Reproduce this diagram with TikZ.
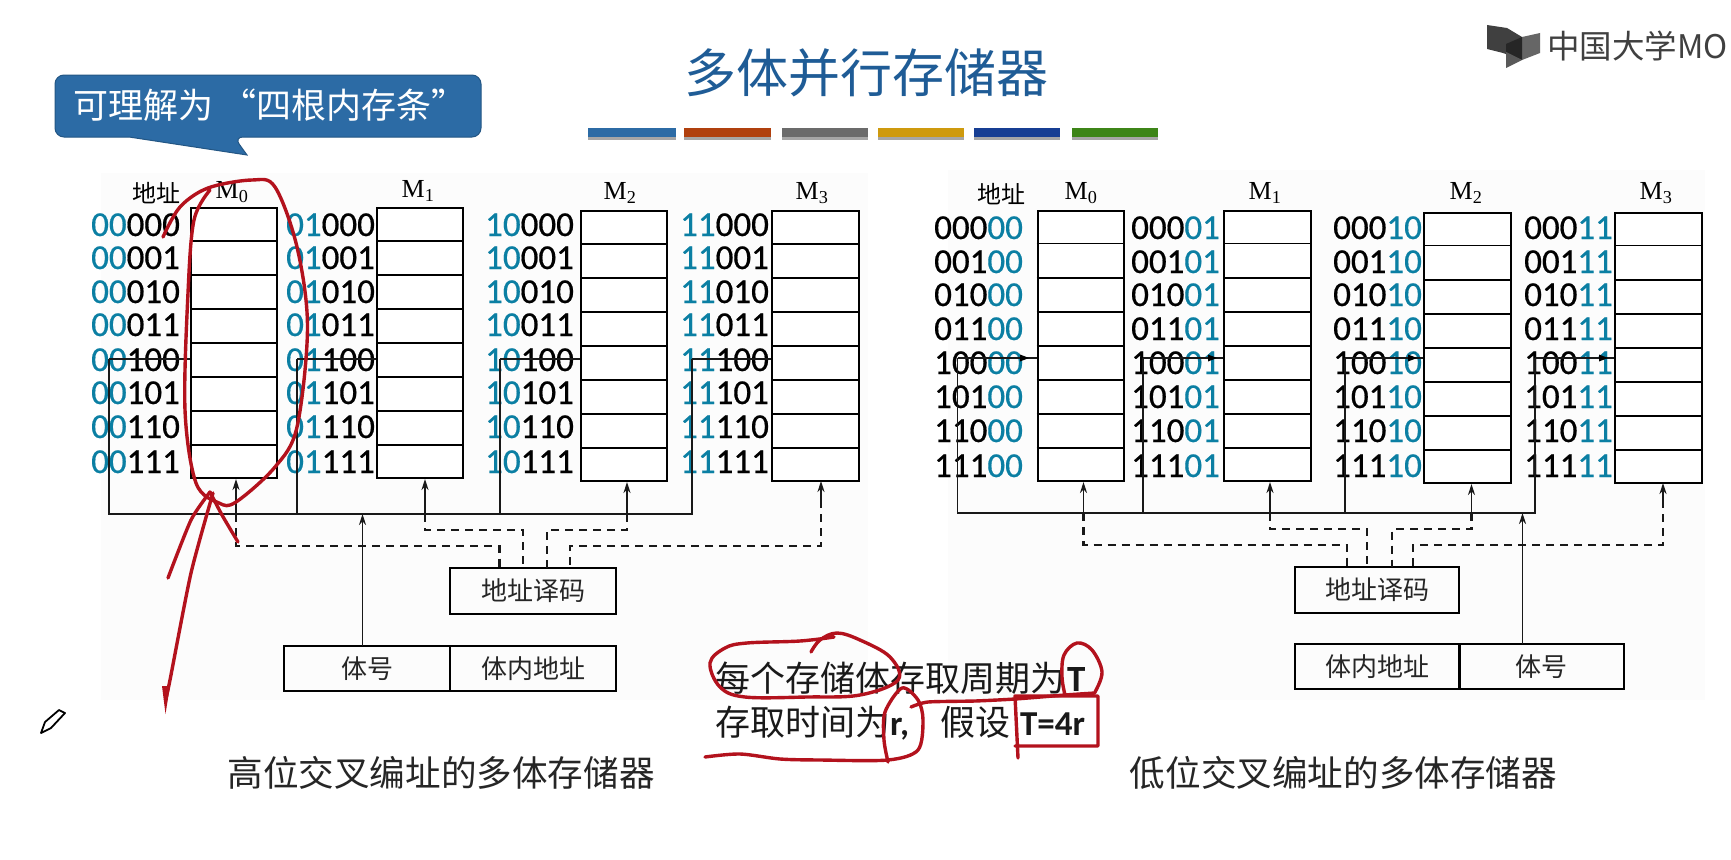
\documentclass[tikz,border=0pt]{standalone}
\usepackage{fontspec}
\usetikzlibrary{arrows.meta,calc}
\setmainfont{Liberation Serif}
\newfontfamily\cjk{Noto Sans CJK SC}
\newfontfamily\digi{Carlito}
\newfontfamily\digifat[FakeBold=0.5]{Carlito}
\newcommand{\fs}[1]{\fontsize{#1}{#1}\selectfont}
\definecolor{teal1}{HTML}{0B7FA3}
\definecolor{pen}{HTML}{B3121D}
\definecolor{titleblue}{HTML}{1F5C96}
\definecolor{bubble}{HTML}{2C6BA5}
\tikzset{
  membox/.style={draw=black,line width=2pt,inner sep=0pt,fill=white},
  plainbox/.style={draw=black,line width=2pt,inner sep=0pt,font=\cjk\fs{26}\color{black!85}},
  wire/.style={draw=black!90,line width=1.9pt},
  arrowwire/.style={wire,-{Stealth[length=11pt,width=7pt]}},
  dashwire/.style={draw=black!90,line width=2.2pt,dash pattern=on 8pt off 6pt},
  addrtext/.style={anchor=base west,inner sep=0pt,font=\digifat\fs{35}},
  mlabel/.style={inner sep=0pt,font=\fs{26}},
  cjklabel/.style={inner sep=0pt,font=\cjk\fs{24}},
  caption/.style={inner sep=0pt,font=\cjk\fs{35.6}\color{black!85}},
  redpen/.style={draw=pen,line width=3.4pt,line cap=round,line join=round},
  barshade/.style={fill=black!35},
}
% name, x1, y1, x2, y2
\newcommand{\membank}[5]{%
  \node[membox,minimum width={(#4-#2)*1pt},minimum height={(#5-#3)*1pt}] (#1) at ({(#2+#4)/2},{(#3+#5)/2}) {};
  \foreach \i in {1,...,7}
    \draw[line width=1.8pt] ($(#1.north west)!\i/8!(#1.south west)$) -- ($(#1.north east)!\i/8!(#1.south east)$);
}
\begin{document}
\begin{tikzpicture}[x=1pt,y=-1pt]
\useasboundingbox (0,0) rectangle (1731,859);
\fill[white] (0,0) rectangle (1731,859);
\fill[black!1] (101,173) rectangle (868,700);
\fill[black!1] (948,170) rectangle (1705,700);

% title
\node[inner sep=0pt,font=\cjk\fs{52}\color{titleblue}] (title) at (866,73) {多体并行存储器};
\foreach \a/\b/\c [count=\n] in {588/676/2C6BA5,684/771/B0400E,782/868/6B6B6B,878/964/CE9A0E,974/1060/173E93,1072/1158/3D8518}{
  \definecolor{barc}{HTML}{\c}
  \fill[barshade] (\a,131) rectangle (\b,140);
  \fill[barc] (\a,128) rectangle (\b,137);
}

% logo
\fill[black!75] (1487,25) -- (1507,28) -- (1522,37) -- (1522,60) -- (1503,53) -- (1487,49) -- cycle;
\fill[black!60] (1522,37) -- (1540,33) -- (1540,53) -- (1522,60) -- cycle;
\fill[black!85] (1522,37) -- (1522,60) -- (1506,52) -- (1506,44) -- cycle;
\fill[black!65] (1506,52) -- (1522,60) -- (1506,68) -- cycle;
\node[anchor=west,inner sep=0pt,font=\cjk\fs{32.5}\color{black!75}] (logo) at (1547,46) {中国大学MO};

% bubble
\fill[bubble,draw=bubble!80!black,line width=1pt,rounded corners=9pt] (55,75) -- (481,75) -- (481,137) -- (234,137) [sharp corners] -- (247,155) -- (129,137) [rounded corners=9pt] -- (55,137) -- cycle;
\node[anchor=west,inner sep=0pt,font=\cjk\fs{35}\color{white}] (bubbletext) at (73,105) {可理解为\hspace{8pt}“四根内存条”};

% ---------- left diagram
\node[cjklabel] (laddr) at (156,193) {地址};
\node[mlabel] (lm0l) at (232,192) {M\textsubscript{0}};
\node[mlabel] (lm1l) at (418,191) {M\textsubscript{1}};
\node[mlabel] (lm2l) at (620,193) {M\textsubscript{2}};
\node[mlabel] (lm3l) at (812,193) {M\textsubscript{3}};
\membank{lm0}{191}{208}{277}{478}
\membank{lm1}{377}{208}{463}{478}
\membank{lm2}{581}{211}{667}{481}
\membank{lm3}{772}{211}{859}{481}

\foreach \pre/\px [count=\c] in {00/91,01/286,10/485,11/680}{
  \foreach \suf/\yy [count=\r] in {000/236,001/269,010/303,011/336,100/371,101/404,110/438,111/473}{
    \node[addrtext] (la\c-\r) at (\px,\yy) {\textcolor{teal1}{\pre}\suf};
  }
}

\coordinate (lb0) at (109,514);
\coordinate (lb1) at (297,514);
\coordinate (lb2) at (500,514);
\coordinate (lb3) at (692,514);
\coordinate (lt0) at (109,359);
\coordinate (lt1) at (297,359);
\coordinate (lt2) at (500,359);
\coordinate (lt3) at (692,359);
\draw[wire] (lt0) -- (lb0) -- (lb3) -- (lt3);
\draw[wire] (lt1) -- (lb1);
\draw[wire] (lt2) -- (lb2);
\draw[wire] (lt0) -- (lt0 -| lm0.west);
\draw[wire] (lt1) -- (lt1 -| lm1.west);
\draw[wire] (lt2) -- (lt2 -| lm2.west);
\draw[wire] (lt3) -- (lt3 -| lm3.west);

\node[plainbox,minimum width=165.6pt,minimum height=46pt] (ldec) at (533,591) {地址译码};
\node[plainbox,minimum width=166pt,minimum height=45pt] (lnum) at (367,668.5) {体号};
\node[plainbox,minimum width=165.6pt,minimum height=45pt] (lin) at (533,668.5) {体内地址};

\coordinate (l0) at (236,514);
\coordinate (l1) at (425,514);
\coordinate (l2) at (627,514);
\draw[arrowwire] (362.5,646) -- (362.5,514);
\draw[arrowwire] (l0) -- (l0 |- lm0.south);
\draw[arrowwire] (l1) -- (l1 |- lm1.south);
\draw[arrowwire] (l2) -- (l2 |- lm2.south);
\draw[dashwire] (l0) -- (236,546) -- (499.5,546) -- (499.5,568);
\draw[dashwire] (l1) -- (425,530) -- (523,530) -- (523,568);
\draw[dashwire] (l2) -- (627,530) -- (547,530) -- (547,568);
\draw[dashwire] (821,500) -- (821,546) -- (570,546) -- (570,568);
\draw[arrowwire] (821,502) -- (821,481);

\node[caption] (lcap) at (441,773) {高位交叉编址的多体存储器};

% ---------- right diagram
\node[cjklabel] (raddr) at (1001.5,194) {地址};
\node[mlabel] (rm0l) at (1081,193) {M\textsubscript{0}};
\node[mlabel] (rm1l) at (1265,193) {M\textsubscript{1}};
\node[mlabel] (rm2l) at (1466,193) {M\textsubscript{2}};
\node[mlabel] (rm3l) at (1656,193) {M\textsubscript{3}};
\membank{rm0}{1037.5}{210.5}{1123.5}{481}
\membank{rm1}{1224}{210.5}{1311}{481}
\membank{rm2}{1424}{212.5}{1510.5}{483}
\membank{rm3}{1615}{212.5}{1701.5}{483}

\foreach \suf/\px [count=\c] in {00/934,01/1131,10/1333,11/1524}{
  \foreach \pre/\yy [count=\r] in {000/239,001/273,010/306,011/340,100/374,101/408,110/442,111/477}{
    \node[addrtext] (ra\c-\r) at (\px,\yy) {\pre\textcolor{teal1}{\suf}};
  }
}

\coordinate (rb0) at (957.5,513);
\coordinate (rb1) at (1143,513);
\coordinate (rb2) at (1345,513);
\coordinate (rb3) at (1535,513);
\coordinate (rt0) at (957.5,358);
\coordinate (rt1) at (1143,358);
\coordinate (rt2) at (1345,358);
\coordinate (rt3) at (1535,358);
\draw[wire] (rt0) -- (rb0) -- (rb3) -- (rt3);
\draw[wire] (rt1) -- (rb1);
\draw[wire] (rt2) -- (rb2);
\draw[wire] (rt0) -- (rt0 -| rm0.west);
\draw[wire] (rt1) -- (rt1 -| rm1.west);
\draw[wire] (rt2) -- (rt2 -| rm2.west);
\draw[wire] (rt3) -- (rt3 -| rm3.west);
\foreach \xx in {1029,1217,1417,1608}
  \fill[black] (\xx,358) -- ++(-9,-3.5) -- ++(0,7) -- cycle;

\node[plainbox,minimum width=164.5pt,minimum height=46pt] (rdec) at (1377.2,590) {地址译码};
\node[plainbox,minimum width=164.5pt,minimum height=45pt] (rin) at (1377.2,666.5) {体内地址};
\node[plainbox,minimum width=164.2pt,minimum height=45pt] (rnum) at (1541.6,666.5) {体号};

\coordinate (r0) at (1083.5,513);
\coordinate (r1) at (1270,513);
\coordinate (r2) at (1471.5,513);
\draw[arrowwire] (1522.5,644) -- (1522.5,513);
\draw[arrowwire] (r0) -- (r0 |- rm0.south);
\draw[arrowwire] (r1) -- (r1 |- rm1.south);
\draw[arrowwire] (r2) -- (r2 |- rm2.south);
\draw[dashwire] (r0) -- (1083.5,545) -- (1347,545) -- (1347,567);
\draw[dashwire] (r1) -- (1270,529) -- (1367,529) -- (1367,567);
\draw[dashwire] (r2) -- (1471.5,529) -- (1392,529) -- (1392,567);
\draw[dashwire] (1663,500) -- (1663,545) -- (1413,545) -- (1413,567);
\draw[arrowwire] (1663,502) -- (1663,483);

\node[caption] (rcap) at (1343.5,773) {低位交叉编址的多体存储器};

% ---------- centre text
\node[anchor=west,inner sep=0pt,font=\cjk\fs{35}\color{black!90}] (note1) at (715,678) {每个存储体存取周期为\hspace{2pt}{\digi\bfseries\fs{37}T}};
\node[anchor=west,inner sep=0pt,font=\cjk\fs{35}\color{black!90}] (note2) at (715,723) {存取时间为{\digi\bfseries r,}\hspace{31pt}假设\hspace{10pt}{\digi\bfseries T=4r}};

% pencil
\draw[black,line width=1.8pt,line join=round] (41,733) -- (45,722) -- (59,710) -- (65,713) -- (51,728) -- cycle;

% ---------- hand-drawn red strokes
\draw[redpen] plot[smooth,tension=.55] coordinates {(163,237) (180,207) (208,188) (252,180) (275,187) (297,247) (307.5,327) (297,427) (275,467) (236,502) (219,503) (196,483) (185,410) (188,293) (194,220) (210,190)};
\draw[redpen] plot[smooth,tension=.4] coordinates {(168,578) (191,520) (210,492)};
\draw[redpen] plot[smooth,tension=.4] coordinates {(210,492) (222,515) (238,542)};
\draw[redpen] plot[smooth,tension=.4] coordinates {(213,493) (191,573) (170,680) (165.5,700)};
\fill[pen] (162,686) -- (170,686) -- (165.5,714) -- cycle;

\draw[redpen] plot[smooth,tension=.6] coordinates {(811,652) (820,640) (837,633) (860,640) (890,657) (898,680) (860,695) (807,697) (745,697) (720,687) (710,663) (725,648) (747,643) (800,641) (834,637)};
\draw[redpen] plot[smooth,tension=.5] coordinates {(705,757) (740,754) (780,759) (820,760) (888,760) (918,750) (923,720) (918,700) (902,688) (885,712) (884,740) (888,762)};
\draw[redpen] plot[smooth,tension=.4] coordinates {(911,707) (928,702) (975,701) (1015,699) (1065,695) (1095,693)};
\draw[redpen] plot[smooth,tension=.6] coordinates {(1065,695) (1062,677) (1064,655) (1077,643) (1092,650) (1102,672) (1095,692)};
\draw[redpen] (1018,758) -- (1015,696) -- (1098,696) -- (1098,746) -- (1015,746);
\end{tikzpicture}
\end{document}
